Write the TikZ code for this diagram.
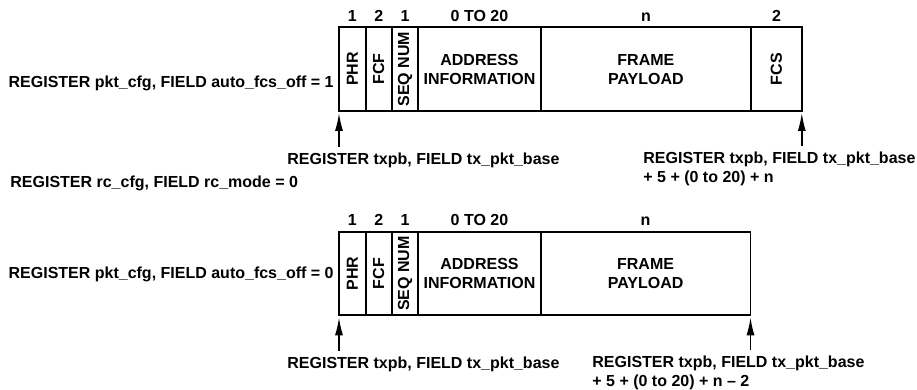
\documentclass[tikz,border=0pt]{standalone}
\usepackage{fontspec}
\setmainfont{Liberation Sans}
\usetikzlibrary{positioning,arrows.meta}

\begin{document}
\begin{tikzpicture}[x=0.5pt,y=-0.5pt,
    font=\fontsize{8}{9.5}\selectfont\bfseries,
    field/.style={draw,line width=0.85pt,minimum height=41.8pt,inner sep=0pt,outer sep=0pt,align=center},
    size/.style={inner sep=0pt,anchor=base},
    regtext/.style={inner sep=0pt,align=left},
    ptr/.style={-{Latex[length=9pt,width=4pt]},line width=0.8pt}]
  \useasboundingbox (0,0) rectangle (917,390);
  % frame with FCS
  \node[field,minimum width=13.35pt,anchor=north west] (phr1) at (339,27.3) {\rotatebox{90}{PHR}};
  \node[field,minimum width=13pt,right=0pt of phr1] (fcf1) {\rotatebox{90}{FCF}};
  \node[field,minimum width=13.3pt,right=0pt of fcf1] (seq1) {\rotatebox{90}{SEQ NUM}};
  \node[field,minimum width=61.2pt,right=0pt of seq1] (addr1) {ADDRESS\\INFORMATION};
  \node[field,minimum width=105.2pt,right=0pt of addr1] (pay1) {FRAME\\PAYLOAD};
  \node[field,minimum width=25.35pt,right=0pt of pay1] (fcs1) {\rotatebox{90}{FCS}};
  \node[size] at ([yshift=3.1pt]phr1.north) {1};
  \node[size] at ([yshift=3.1pt]fcf1.north) {2};
  \node[size] at ([yshift=3.1pt]seq1.north) {1};
  \node[size] at ([yshift=3.1pt]addr1.north) {0 TO 20};
  \node[size] at ([yshift=3.1pt]pay1.north) {n};
  \node[size] at ([yshift=3.1pt]fcs1.north) {2};
  \node[regtext,anchor=base east] (off1) at (334,87.5) {REGISTER pkt\_cfg, FIELD auto\_fcs\_off = 1};
  \node[regtext,anchor=base west] (start1) at (287,164.5) {REGISTER txpb, FIELD tx\_pkt\_base};
  \node[regtext,anchor=north west] (end1) at (643,152) {REGISTER txpb, FIELD tx\_pkt\_base\\+ 5 + (0 to 20) + n};
  \coordinate (s1) at ([yshift=-1pt]phr1.south west);
  \coordinate (e1) at ([yshift=-1pt]fcs1.south east);
  \draw[ptr] (start1.north -| s1) ++(0,-6) -- (s1);
  \draw[ptr] (end1.north -| e1) ++(0,-6) -- (e1);

  \node[regtext,anchor=base west] (mode) at (10,187.5) {REGISTER rc\_cfg, FIELD rc\_mode = 0};

  % frame without FCS
  \node[field,minimum width=13.35pt,anchor=north west] (phr2) at (339,231.7) {\rotatebox{90}{PHR}};
  \node[field,minimum width=13pt,right=0pt of phr2] (fcf2) {\rotatebox{90}{FCF}};
  \node[field,minimum width=13.3pt,right=0pt of fcf2] (seq2) {\rotatebox{90}{SEQ NUM}};
  \node[field,minimum width=61.2pt,right=0pt of seq2] (addr2) {ADDRESS\\INFORMATION};
  \node[field,minimum width=104.9pt,right=0pt of addr2] (pay2) {FRAME\\PAYLOAD};
  \node[size] at ([yshift=3.1pt]phr2.north) {1};
  \node[size] at ([yshift=3.1pt]fcf2.north) {2};
  \node[size] at ([yshift=3.1pt]seq2.north) {1};
  \node[size] at ([yshift=3.1pt]addr2.north) {0 TO 20};
  \node[size] at ([yshift=3.1pt]pay2.north) {n};
  \node[regtext,anchor=base east] (off2) at (334,278.5) {REGISTER pkt\_cfg, FIELD auto\_fcs\_off = 0};
  \node[regtext,anchor=base west] (start2) at (287,368.5) {REGISTER txpb, FIELD tx\_pkt\_base};
  \node[regtext,anchor=north west] (end2) at (592,356) {REGISTER txpb, FIELD tx\_pkt\_base\\+ 5 + (0 to 20) + n -- 2};
  \coordinate (s2) at ([yshift=-1pt]phr2.south west);
  \coordinate (e2) at ([yshift=-1pt]pay2.south east);
  \draw[ptr] (start2.north -| s2) ++(0,-6) -- (s2);
  \draw[ptr] (end2.north -| e2) ++(0,-6) -- (e2);
\end{tikzpicture}
\end{document}
